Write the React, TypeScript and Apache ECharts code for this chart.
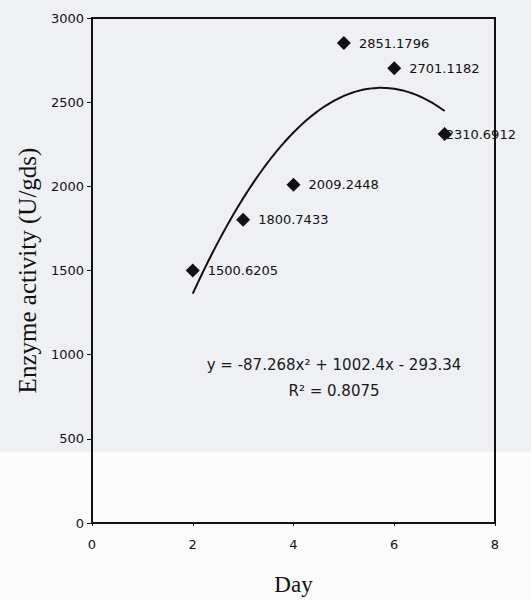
import React, { useEffect, useRef } from "react";
import * as echarts from "echarts";

const days = [2, 3, 4, 5, 6, 7];
const activity = [1500.6205, 1800.7433, 2009.2448, 2851.1796, 2701.1182, 2310.6912];
const xTicks = [0, 2, 4, 6, 8];
const yTicks = [0, 500, 1000, 1500, 2000, 2500, 3000];
// Trendline coefficients as printed on the chart: y = a x^2 + b x + c
const trendCoef = [-87.268, 1002.4, -293.34];
const trendRange = [2, 7];
const equationLine = "y = -87.268x² + 1002.4x - 293.34";
const r2Line = "R² = 0.8075";

export default function App() {
  const ref = useRef<HTMLDivElement>(null);
  useEffect(() => {
    if (!ref.current) return;
    const chart = echarts.init(ref.current, undefined, { renderer: "svg" });
    const trend: number[][] = [];
    const steps = 100;
    for (let i = 0; i <= steps; i++) {
      const x = trendRange[0] + ((trendRange[1] - trendRange[0]) * i) / steps;
      trend.push([x, trendCoef[0] * x * x + trendCoef[1] * x + trendCoef[2]]);
    }
    const sans = "DejaVu Sans";
    const serif = "Liberation Serif";
    chart.setOption({
      animation: false,
      backgroundColor: "#eff0f4",
      grid: {
        left: 92,
        right: 36,
        top: 18,
        bottom: 78,
        show: true,
        borderColor: "#111",
        borderWidth: 2,
        backgroundColor: "transparent",
      },
      graphic: [
        {
          type: "rect",
          z: -10,
          silent: true,
          shape: { x: 0, y: 452, width: 531, height: 149 },
          style: { fill: "#fbfbfc" },
        },
        {
          type: "text",
          z: 50,
          x: 334,
          y: 365,
          style: {
            text: equationLine,
            textAlign: "center",
            textVerticalAlign: "middle",
            fontFamily: sans,
            fontSize: 15,
            fill: "#1a1a1a",
          },
        },
        {
          type: "text",
          z: 50,
          x: 334,
          y: 391,
          style: {
            text: r2Line,
            textAlign: "center",
            textVerticalAlign: "middle",
            fontFamily: sans,
            fontSize: 15,
            fill: "#1a1a1a",
          },
        },
      ],
      xAxis: {
        type: "value",
        min: xTicks[0],
        max: xTicks[xTicks.length - 1],
        interval: 2,
        name: "Day",
        nameLocation: "middle",
        nameGap: 50,
        nameTextStyle: { fontFamily: serif, fontSize: 23, color: "#111" },
        axisLine: { show: true, lineStyle: { color: "#111", width: 2 } },
        axisTick: { show: true, length: 3, lineStyle: { color: "#111" } },
        axisLabel: { fontFamily: sans, fontSize: 13, color: "#111", margin: 15, formatter: (v: number) => String(v) },
        splitLine: { show: false },
      },
      yAxis: {
        type: "value",
        min: yTicks[0],
        max: yTicks[yTicks.length - 1],
        interval: 500,
        name: "Enzyme activity (U/gds)",
        nameLocation: "middle",
        nameGap: 45,
        nameTextStyle: { fontFamily: serif, fontSize: 25, color: "#111" },
        axisLine: { show: true, lineStyle: { color: "#111", width: 2 } },
        axisTick: { show: true, length: 5, lineStyle: { color: "#111" } },
        axisLabel: { fontFamily: sans, fontSize: 13, color: "#111", margin: 8, formatter: (v: number) => String(v) },
        splitLine: { show: false },
      },
      series: [
        {
          type: "line",
          data: trend,
          showSymbol: false,
          symbol: "none",
          smooth: false,
          lineStyle: { color: "#111", width: 2 },
          z: 3,
        },
        {
          type: "scatter",
          data: days.map((d, i) => ({
            value: [d, activity[i]],
            label: i === days.length - 1 ? { offset: [-14, 0] } : undefined,
          })),
          symbol: "diamond",
          symbolSize: 14,
          itemStyle: { color: "#111", opacity: 1 },
          z: 4,
          label: {
            show: true,
            position: "right",
            distance: 8,
            fontFamily: sans,
            fontSize: 13,
            color: "#111",
            formatter: (p: any) => String(p.value[1]),
          },
        },
      ],
    });
    return () => chart.dispose();
  }, []);
  return (
    <div
      ref={ref}
      style={{ position: "fixed", left: 0, top: 0, width: 531, height: 601 }}
    />
  );
}
